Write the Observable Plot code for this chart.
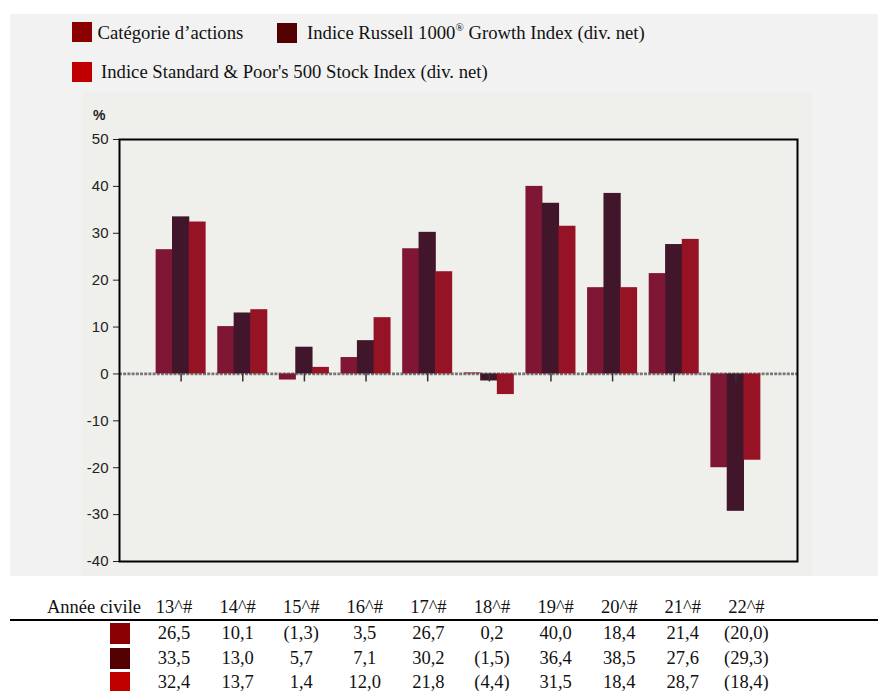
<!DOCTYPE html>
<html>
<head>
<meta charset="utf-8">
<script src="https://cdn.jsdelivr.net/npm/d3@7"></script>
<script src="https://cdn.jsdelivr.net/npm/@observablehq/plot@0.6"></script>
<style>
  html, body { margin: 0; padding: 0; }
  body { width: 878px; height: 691px; position: relative; overflow: hidden; background: #ffffff; }
  .abs { position: absolute; white-space: nowrap; line-height: 1; font-family: "Liberation Serif", "Times New Roman", serif; color: #111; }
  .sq { position: absolute; }
  sup { font-size: 11px; line-height: 0; position: relative; top: -1px; }
</style>
</head>
<body>
<div style="position:absolute;left:10px;top:14px;width:868px;height:562px;background:#f2f2f2"></div>
<div id="chart" style="position:absolute;left:82px;top:92px"></div>
<div style="position:absolute;left:10px;top:619px;width:868px;height:2px;background:#000"></div>
<script>
// ---- data ----
const years = ["13^#","14^#","15^#","16^#","17^#","18^#","19^#","20^#","21^#","22^#"];
const seriesNames = [
  "Catégorie d’actions",
  "Indice Russell 1000® Growth Index (div. net)",
  "Indice Standard & Poor's 500 Stock Index (div. net)"
];
const legendLabels = [
  "Catégorie d’actions",
  "Indice Russell 1000<sup>®</sup> Growth Index (div. net)",
  "Indice Standard &amp; Poor's 500 Stock Index (div. net)"
];
const categoryValues = [26.5, 10.1, -1.3, 3.5, 26.7, 0.2, 40.0, 18.4, 21.4, -20.0];
const russellValues  = [33.5, 13.0, 5.7, 7.1, 30.2, -1.5, 36.4, 38.5, 27.6, -29.3];
const spValues       = [32.4, 13.7, 1.4, 12.0, 21.8, -4.4, 31.5, 18.4, 28.7, -18.4];
const yTicks = [-40, -30, -20, -10, 0, 10, 20, 30, 40, 50];
const tableHeader = "Année civile";

const barColors = ["#7f1734", "#42162a", "#951325"];
const legendColors = ["#8b0000", "#520000", "#c00000"];

const seriesValues = [categoryValues, russellValues, spValues];
const rows = years.flatMap((year, i) =>
  seriesNames.map((series, k) => ({year, series, value: seriesValues[k][i]}))
);

// ---- chart layout ----
const W = 730, H = 484, mL = 37, mT = 47, mR = 15, mB = 15;
const padIn = 0.1888, padOut = (1 + padIn) / 2;
const step = (W - mL - mR) / (years.length - padIn + 2 * padOut);
const bw = step * (1 - padIn);
const third = bw / 3;

const barMarks = seriesNames.map((s, k) =>
  Plot.barY(rows.filter(d => d.series === s), {
    x: "year", y: "value", fill: "series",
    insetLeft: k * third - (k > 0 ? 0.3 : 0),
    insetRight: (2 - k) * third - (k < 2 ? 0.3 : 0)
  })
);

const chart = Plot.plot({
  width: W, height: H,
  marginLeft: mL, marginTop: mT, marginRight: mR, marginBottom: mB,
  style: {
    background: "#efefeb",
    fontFamily: "'Liberation Sans Narrow','Arial Narrow','Liberation Sans',Arial,sans-serif",
    fontSize: "15px",
    color: "#222"
  },
  x: {domain: years, paddingInner: padIn, paddingOuter: padOut, round: false, axis: null},
  y: {domain: [-40, 50], axis: null},
  color: {domain: seriesNames, range: barColors},
  marks: [
    Plot.ruleY([0], {stroke: "#777", strokeWidth: 2.8, strokeDasharray: "3,1.2"}),
    ...barMarks,
    Plot.ruleX(years, {x: d => d, y1: 0, y2: 0, insetBottom: -8, stroke: "#333", strokeWidth: 1.5}),
    Plot.axisY({ticks: yTicks, tickFormat: d => String(d), tickSize: 6, tickPadding: 5, fontSize: 15, color: "#222", label: null}),
    Plot.text(["%"], {frameAnchor: "top-left", dx: -14, dy: -20, textAnchor: "end", lineAnchor: "bottom", fontWeight: "bold", fontSize: 14, fill: "#222", fontFamily: "'Liberation Sans',Arial,sans-serif"}),
    Plot.frame({stroke: "#000", strokeWidth: 2})
  ]
});
document.getElementById("chart").appendChild(chart);

// ---- html helpers ----
function placeText(html, x, baseline, anchor, fs) {
  const d = document.createElement("div");
  d.className = "abs";
  d.style.fontSize = fs + "px";
  d.style.left = x + "px";
  d.style.top = (baseline - fs * 0.8375) + "px";
  if (anchor === "end") d.style.transform = "translateX(-100%)";
  if (anchor === "middle") d.style.transform = "translateX(-50%)";
  d.innerHTML = html;
  document.body.appendChild(d);
}
function placeSquare(color, x, y, w, h) {
  const s = document.createElement("div");
  s.className = "sq";
  Object.assign(s.style, {left: x + "px", top: y + "px", width: w + "px", height: h + "px", background: color});
  document.body.appendChild(s);
}

// ---- legend ----
const LFS = 18.7;
const legendPos = [
  {sx: 72, sy: 22, tx: 97.5, b: 40},
  {sx: 277, sy: 23, tx: 307, b: 40},
  {sx: 72, sy: 62, tx: 101, b: 78.5}
];
legendLabels.forEach((lab, k) => {
  const p = legendPos[k];
  placeSquare(legendColors[k], p.sx, p.sy, 20, 20);
  placeText(lab, p.tx, p.b, "start", LFS);
});

// ---- table ----
const TFS = 18.5;
const fmt = v => (v < 0 ? "(" + (-v).toFixed(1) + ")" : v.toFixed(1)).replace(".", ",");
placeText(tableHeader, 141, 613.5, "end", TFS);
years.forEach((yr, i) => placeText(yr, 174 + 63.6 * i, 613.5, "middle", TFS));
seriesValues.forEach((vals, k) => {
  const b = 639.5 + 24.5 * k;
  placeSquare(legendColors[k], 110, 623 + 24.5 * k, 20, 21);
  vals.forEach((v, i) => placeText(fmt(v), 174 + 63.6 * i, b, "middle", TFS));
});
</script>
</body>
</html>
